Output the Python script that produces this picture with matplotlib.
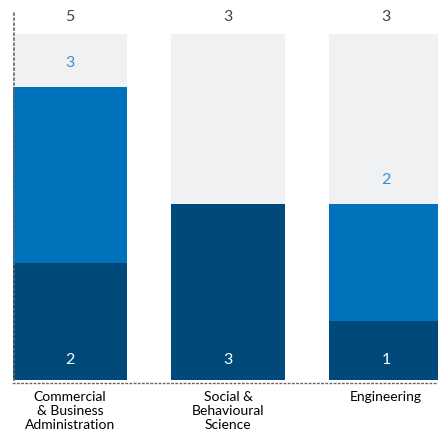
import numpy as np
import matplotlib.pyplot as plt

categories = ['Commercial\n& Business\nAdministration', 'Social &\nBehavioural\nScience', 'Engineering']
dark_vals = [2, 3, 1]
blue_vals = [3, 0, 2]
totals = [5, 3, 3]

DARK = '#00497a'
BLUE = '#0072bc'
GRAY = '#f0f1f3'
BLUE_TXT = '#3d8fd4'
TXT = '#555555'

plt.rcParams['font.family'] = ['Lato', 'DejaVu Sans']

fig = plt.figure(figsize=(4.39, 4.35), dpi=100, facecolor='white')
ax = fig.add_axes([13 / 439, 54 / 435, 426 / 439, 367 / 435])

x = np.arange(len(categories))
w = 0.72
bg_h = 5.9

ax.bar(x, [bg_h] * len(x), width=w, color=GRAY, zorder=1)
ax.bar(x, dark_vals, width=w, color=DARK, zorder=2)
ax.bar(x, blue_vals, bottom=dark_vals, width=w, color=BLUE, zorder=2)

for i in range(len(x)):
  ax.text(x[i], 0.36, str(dark_vals[i]), ha='center', va='center',
          color='white', fontsize=11.5, zorder=3)
  if blue_vals[i]:
    ax.text(x[i], dark_vals[i] + blue_vals[i] + 0.43, str(blue_vals[i]),
            ha='center', va='center', color=BLUE_TXT, fontsize=11.5, zorder=3)
  ax.text(x[i], 6.21, str(totals[i]), ha='center', va='center',
          color='#444444', fontsize=11.5, zorder=3)

ax.set_xlim(-0.361, 2.335)
ax.set_ylim(0, 6.26)
ax.set_xticks(x)
ax.set_xticklabels(categories, fontsize=11, color=TXT, linespacing=1.0)
ax.tick_params(axis='x', length=0, pad=5)
ax.set_yticks([])

for s in ['top', 'right']:
  ax.spines[s].set_visible(False)
ax.spines['left'].set_linestyle((0, (1, 2)))
ax.spines['left'].set_color('#666666')
ax.spines['left'].set_linewidth(1.2)
ax.spines['left'].set_position(('outward', -1))
ax.spines['bottom'].set_linestyle((0, (1, 2)))
ax.spines['bottom'].set_color('#666666')
ax.spines['bottom'].set_linewidth(1)
ax.spines['bottom'].set_position(('outward', 2))

fig.savefig('out.png', dpi=100, facecolor='white')
